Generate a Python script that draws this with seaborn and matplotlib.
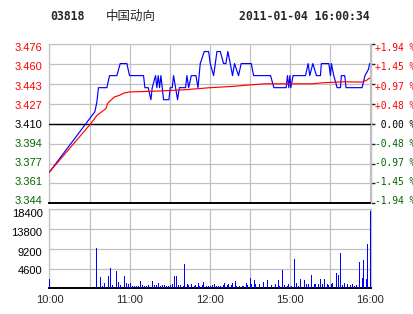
import matplotlib
matplotlib.use("Agg")
import matplotlib.pyplot as plt
from matplotlib.transforms import ScaledTranslation
import numpy as np
import pandas as pd
import seaborn as sns

# ---------------- data ----------------
code = "03818"
name = "中国动向"
stamp = "2011-01-04 16:00:34"

time_labels = ["10:00", "11:00", "12:00", "15:00", "16:00"]
time_label_pos = [0, 60, 120, 180, 240]

# price (blue) vertices: minute index since open, price
price_min = [0, 34, 35.5, 36.7, 43, 45, 50.5, 53, 58, 60, 70.5, 71.5, 74, 76, 77, 79.5,
             80.5, 81.5, 82.5, 83.5, 84.5, 85.5, 89.5, 90.5, 92, 93, 94.5, 96, 97.3, 102,
             103, 104.3, 106.3, 109.8, 111.3, 113, 116, 119.3, 120.5, 123, 124.3, 125.5,
             128, 130.5, 132.2, 133.7, 135.5, 137.2, 138.7, 141.7, 143.7, 151.2, 153,
             165.7, 168.2, 177.4, 178.4, 179.4, 180.2, 180.9, 182.6, 191.9, 193.9, 195.1,
             197.4, 200.1, 203.1, 203.8, 209.4, 210.6, 211.3, 213.1, 215.6, 218.1, 218.8,
             221.3, 222.3, 234.3, 236.5, 239, 240]
price_val = [3.370, 3.420, 3.428, 3.440, 3.440, 3.450, 3.450, 3.460, 3.460, 3.450, 3.450,
             3.440, 3.440, 3.430, 3.440, 3.450, 3.440, 3.450, 3.440, 3.450, 3.440, 3.430,
             3.430, 3.440, 3.440, 3.450, 3.440, 3.430, 3.440, 3.440, 3.450, 3.440, 3.450,
             3.450, 3.440, 3.460, 3.470, 3.470, 3.460, 3.450, 3.460, 3.470, 3.470, 3.460,
             3.460, 3.470, 3.460, 3.450, 3.460, 3.450, 3.460, 3.460, 3.450, 3.450, 3.440,
             3.440, 3.450, 3.440, 3.450, 3.440, 3.450, 3.450, 3.460, 3.450, 3.460, 3.450,
             3.450, 3.460, 3.460, 3.450, 3.460, 3.450, 3.440, 3.440, 3.450, 3.450, 3.440,
             3.440, 3.450, 3.455, 3.460]

# average price (red) vertices
avg_min = [0, 31, 35.6, 42.3, 43.6, 48.6, 52.3, 56, 59.8, 81, 101.8, 119.3, 136.7, 149.2,
           161.7, 196.9, 204, 221, 234, 237.5, 240]
avg_val = [3.370, 3.4102, 3.417, 3.4226, 3.427, 3.4323, 3.4336, 3.4356, 3.4364, 3.4372,
           3.4383, 3.4399, 3.4410, 3.4422, 3.4432, 3.4432, 3.4440, 3.4449, 3.4446, 3.4460,
           3.4480]

# volume per minute
vol_min = [0, 35, 38, 39, 41, 44, 45, 47, 50, 51, 53, 56, 57, 59, 60, 62, 63, 65, 66, 68,
           69, 71, 72, 74, 77, 78, 80, 81, 83, 84, 86, 87, 89, 90, 92, 93, 95, 96, 98, 100,
           101, 103, 104, 106, 108, 109, 111, 112, 114, 115, 117, 119, 120, 122, 123, 125,
           126, 128, 130, 131, 133, 134, 136, 137, 139, 140, 142, 144, 145, 147, 148, 150,
           151, 153, 154, 157, 160, 163, 166, 169, 171, 172, 174, 176, 178, 179, 181, 183,
           185, 186, 188, 191, 192, 194, 196, 198, 199, 201, 203, 204, 206, 208, 209, 211,
           212, 215, 216, 218, 219, 221, 223, 225, 227, 228, 230, 232, 234, 235, 237, 238,
           240]
vol_val = [2170, 9390, 2640, 540, 1240, 2870, 4730, 780, 4030, 1470, 780, 2870, 1240, 1010,
           1240, 620, 620, 540, 540, 1710, 780, 540, 540, 780, 1710, 780, 700, 1160, 620,
           780, 780, 540, 540, 780, 1010, 2870, 2870, 780, 780, 540, 5670, 1010, 780, 1010,
           540, 780, 1160, 540, 780, 1470, 540, 540, 540, 780, 1010, 540, 540, 540, 780,
           1160, 780, 1010, 780, 1160, 1710, 540, 540, 540, 540, 1160, 780, 2330, 1010,
           1860, 1010, 1010, 1470, 1860, 780, 1010, 1860, 540, 4270, 780, 540, 1010, 540,
           6830, 1160, 540, 2170, 1860, 1010, 1010, 3100, 1010, 1010, 1010, 2170, 1010,
           2170, 1010, 780, 1010, 1240, 3570, 3100, 8230, 780, 1240, 1010, 780, 1010, 540,
           780, 6130, 2400, 6600, 2170, 10320, 18000]

price_ticks = [3.344, 3.3605, 3.377, 3.3935, 3.410, 3.4265, 3.443, 3.4595, 3.476]
price_labels = ["3.344", "3.361", "3.377", "3.394", "3.410", "3.427", "3.443", "3.460", "3.476"]
pct_labels = ["-1.94 %", "-1.45 %", "-0.97 %", "-0.48 %", " 0.00 %",
              "+0.48 %", "+0.97 %", "+1.45 %", "+1.94 %"]
vol_ticks = [4600, 9200, 13800, 18400]
vol_labels = ["4600", "9200", "13800", "18400"]

# ---------------- style ----------------
sns.set_theme(style="white")
plt.rcParams["font.family"] = ["Liberation Sans", "DejaVu Sans"]

RED = "#ff0000"
BLUE = "#0000ff"
GREEN = "#006600"
GRID = "#c0c0c0"
lab_colors = [GREEN] * 4 + ["black"] + [RED] * 4

W, H = 414, 314
fig = plt.figure(figsize=(W / 100, H / 100), dpi=100)
fig.patch.set_facecolor("white")


def rect(l, t, r, b):
    return [l / W, 1 - b / H, (r - l) / W, (b - t) / H]


ax = fig.add_axes(rect(49.5, 44.3, 371, 203.3))
axv = fig.add_axes(rect(49.5, 209.3, 371, 288.3))

# ---------------- price panel ----------------
pdf = pd.DataFrame({"m": price_min, "p": price_val})
adf = pd.DataFrame({"m": avg_min, "p": avg_val})
sns.lineplot(data=pdf, x="m", y="p", ax=ax, color=BLUE, lw=0.85,
             estimator=None, sort=False, zorder=4)
sns.lineplot(data=adf, x="m", y="p", ax=ax, color=RED, lw=0.85,
             estimator=None, sort=False, zorder=5)
ax.set_xlim(0, 241)
ax.set_ylim(3.344, 3.476)
ax.set_xticks(range(0, 241, 30))
ax.set_yticks(price_ticks)
ax.set_yticklabels(price_labels, fontsize=8)
ax.tick_params(axis="x", length=0, labelbottom=False)
ax.tick_params(axis="y", length=0, pad=5)
ax.grid(True, color=GRID, lw=0.9)
ax.axhline(3.410, color="black", lw=1.0, zorder=3)
ax.set_xlabel("")
ax.set_ylabel("")
for s in ["top", "left", "right"]:
    ax.spines[s].set_color(GRID)
    ax.spines[s].set_linewidth(0.9)
ax.spines["bottom"].set_color("black")
ax.spines["bottom"].set_linewidth(1.4)
for i, (lbl, c) in enumerate(zip(ax.get_yticklabels(), lab_colors)):
    lbl.set_color(c)
    lbl.set_transform(lbl.get_transform() +
                      ScaledTranslation(0, -(i - 4) * 0.75 / 100, fig.dpi_scale_trans))

axr = ax.twinx()
axr.set_ylim(3.344, 3.476)
axr.set_yticks(price_ticks)
axr.set_yticklabels(pct_labels, fontsize=6.9, family="DejaVu Sans Mono")
axr.tick_params(axis="y", length=3, width=1, pad=0)
axr.grid(False)
for s in ["top", "left", "bottom"]:
    axr.spines[s].set_visible(False)
axr.spines["right"].set_color(GRID)
axr.spines["right"].set_linewidth(0.9)
for i, (lbl, tk, c) in enumerate(zip(axr.get_yticklabels(), axr.yaxis.get_major_ticks(), lab_colors)):
    lbl.set_color(c)
    tk.tick2line.set_color(c)
    lbl.set_transform(lbl.get_transform() +
                      ScaledTranslation(0, -(i - 4) * 0.75 / 100, fig.dpi_scale_trans))

# ---------------- volume panel ----------------
axv.vlines(vol_min, 0, vol_val, color=BLUE, lw=0.72, antialiased=False, zorder=4)
axv.set_xlim(0, 241)
axv.set_ylim(0, 18400)
axv.set_xticks(range(0, 241, 30))
axv.set_xticklabels([time_labels[time_label_pos.index(t)] if t in time_label_pos else ""
                     for t in range(0, 241, 30)], fontsize=8)
axv.set_yticks(vol_ticks)
axv.set_yticklabels(vol_labels, fontsize=8)
axv.tick_params(axis="both", length=0, pad=5)
axv.grid(True, color=GRID, lw=0.9)
for s in ["top", "left", "right"]:
    axv.spines[s].set_color(GRID)
    axv.spines[s].set_linewidth(0.9)
axv.spines["bottom"].set_color("black")
axv.spines["bottom"].set_linewidth(1.4)
for lbl, dy in zip(axv.get_yticklabels(), [-1.0, -2.7, -3.0, -3.7]):
    lbl.set_color("black")
    lbl.set_transform(lbl.get_transform() + ScaledTranslation(0, dy / 100, fig.dpi_scale_trans))

# ---------------- header ----------------
ty = 1 - 16 / H
fig.text(50 / W, ty, code, fontsize=8.3, fontweight="bold", family="DejaVu Sans Mono",
         va="center", ha="left")
fig.text(106 / W, ty, name, fontsize=9, family=["Noto Sans CJK SC", "DejaVu Sans"],
         va="center", ha="left")
fig.text(370 / W, ty, stamp, fontsize=8.3, fontweight="bold", family="DejaVu Sans Mono",
         va="center", ha="right")

fig.savefig("out.png", dpi=100, facecolor="white")
